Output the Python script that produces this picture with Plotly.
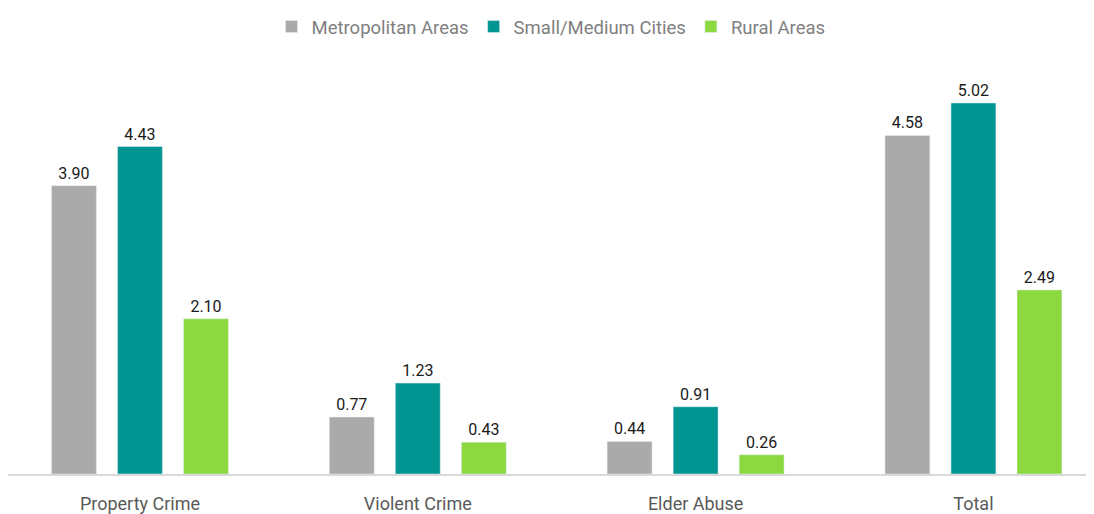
import plotly.graph_objects as go

categories = ["Property Crime", "Violent Crime", "Elder Abuse", "Total"]
series_names = ["Metropolitan Areas", "Small/Medium Cities", "Rural Areas"]
metro = [3.90, 0.77, 0.44, 4.58]
small = [4.43, 1.23, 0.91, 5.02]
rural = [2.10, 0.43, 0.26, 2.49]
colors = ["#a9aaa9", "#009591", "#8bd93f"]

FONT = "Roboto, sans-serif"

fig = go.Figure()
for name, vals, c in zip(series_names, [metro, small, rural], colors):
    fig.add_trace(go.Bar(
        x=categories, y=vals, name=name, marker_color=c,
        text=[f"{v:.2f}" for v in vals], textposition="outside",
        textfont=dict(color="#1a1a1a", size=16, family=FONT),
        cliponaxis=False,
    ))

fig.update_layout(
    width=1086, height=506,
    margin=dict(l=0, r=0, t=0, b=38),
    plot_bgcolor="white", paper_bgcolor="white",
    barmode="group", bargap=0.287, bargroupgap=0.32,
    font=dict(family=FONT, color="#595959", size=16),
    legend=dict(orientation="h", x=0.5, xanchor="center", y=0.974, yanchor="middle",
                bgcolor="rgba(0,0,0,0)",
                font=dict(size=18.5, color="#7f7f7f")),
    showlegend=True,
)
fig.update_xaxes(showline=True, linecolor="#d9d9d9", linewidth=2, ticks="",
                 range=[-0.475, 3.434], ticklabelstandoff=12,
                 tickfont=dict(size=18, color="#595959"))
fig.update_yaxes(visible=False, range=[0, 6.21], showgrid=False, zeroline=False)

fig.write_html("out.html")
